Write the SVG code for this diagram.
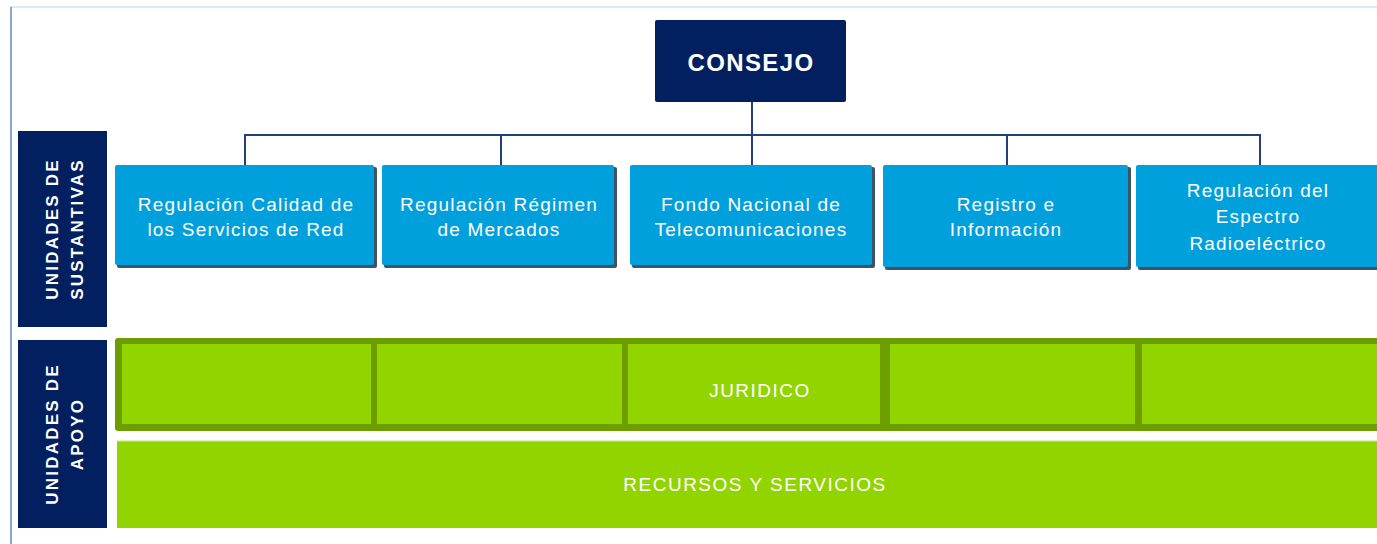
<svg xmlns="http://www.w3.org/2000/svg" width="1377" height="544" viewBox="0 0 1377 544">
<style>
.bx{fill:#00a0dc}
.sh{fill:#3b5564}
.bt{font-family:"Liberation Sans",Arial,sans-serif;font-size:19px;letter-spacing:1.2px;fill:#ffffff;text-anchor:middle}
.nv{fill:#022060}
.lb{font-family:"Liberation Sans",Arial,sans-serif;font-size:17px;font-weight:bold;letter-spacing:2.2px;fill:#ffffff;text-anchor:middle}
.gt{font-family:"Liberation Sans",Arial,sans-serif;font-size:19px;letter-spacing:1.5px;fill:#ffffff;text-anchor:middle}
.cn{stroke:#23407e;stroke-width:2;fill:none}
</style>
<rect width="1377" height="544" fill="#ffffff"/>
<g id="frame">
<line x1="10" y1="7" x2="1377" y2="7" stroke="#d6ecef" stroke-width="2"/>
<line x1="11" y1="7" x2="11" y2="544" stroke="#8ea7c6" stroke-width="2"/>
</g>
<g id="connectors">
<line class="cn" x1="752" y1="102" x2="752" y2="165"/>
<line class="cn" x1="245" y1="135" x2="1260" y2="135"/>
<line class="cn" x1="245" y1="134" x2="245" y2="165"/>
<line class="cn" x1="501" y1="134" x2="501" y2="165"/>
<line class="cn" x1="1007" y1="134" x2="1007" y2="166"/>
<line class="cn" x1="1260" y1="134" x2="1260" y2="166"/>
</g>
<g id="consejo">
<rect x="655" y="20" width="191" height="82" rx="2" class="nv"/>
<text x="751" y="71" font-family="Liberation Sans,Arial,sans-serif" font-size="24" font-weight="bold" letter-spacing="1.4" fill="#ffffff" text-anchor="middle">CONSEJO</text>
</g>
<g id="label-sustantivas">
<rect x="18" y="131" width="89" height="196" class="nv"/>
<text class="lb" transform="translate(58,229) rotate(-90)"><tspan x="0" y="0">UNIDADES DE</tspan><tspan x="0" y="25">SUSTANTIVAS</tspan></text>
</g>
<g id="label-apoyo">
<rect x="18" y="340" width="89" height="188" class="nv"/>
<text class="lb" transform="translate(58,434) rotate(-90)"><tspan x="0" y="0">UNIDADES DE</tspan><tspan x="0" y="25">APOYO</tspan></text>
</g>
<g id="box-calidad">
<rect x="117" y="167" width="260" height="101" rx="2" class="sh"/>
<rect x="115" y="165" width="259" height="100" rx="2" class="bx"/>
<text class="bt"><tspan x="246" y="211">Regulación Calidad de</tspan><tspan x="246" y="236">los Servicios de Red</tspan></text>
</g>
<g id="box-regimen">
<rect x="384" y="167" width="233" height="101" rx="2" class="sh"/>
<rect x="382" y="165" width="232" height="100" rx="2" class="bx"/>
<text class="bt"><tspan x="499" y="211">Regulación Régimen</tspan><tspan x="499" y="236">de Mercados</tspan></text>
</g>
<g id="box-fondo">
<rect x="632" y="167" width="243" height="101" rx="2" class="sh"/>
<rect x="630" y="165" width="242" height="100" rx="2" class="bx"/>
<text class="bt"><tspan x="751" y="211">Fondo Nacional de</tspan><tspan x="751" y="236">Telecomunicaciones</tspan></text>
</g>
<g id="box-registro">
<rect x="885" y="167" width="246" height="103" rx="2" class="sh"/>
<rect x="883" y="165" width="245" height="102" rx="2" class="bx"/>
<text class="bt"><tspan x="1006" y="211">Registro e</tspan><tspan x="1006" y="236">Información</tspan></text>
</g>
<g id="box-espectro">
<rect x="1138" y="167" width="246" height="103" rx="2" class="sh"/>
<rect x="1136" y="165" width="245" height="102" rx="2" class="bx"/>
<text class="bt"><tspan x="1258" y="197">Regulación del</tspan><tspan x="1258" y="223">Espectro</tspan><tspan x="1258" y="250">Radioeléctrico</tspan></text>
</g>
<g id="juridico">
<rect x="115" y="338" width="1270" height="93" rx="3" fill="#6c9e00"/>
<rect x="122" y="344" width="249" height="80" fill="#92d400"/>
<rect x="377" y="344" width="245" height="80" fill="#92d400"/>
<rect x="628" y="344" width="252" height="80" fill="#92d400"/>
<rect x="890" y="344" width="245" height="80" fill="#92d400"/>
<rect x="1142" y="344" width="240" height="80" fill="#92d400"/>
<text class="gt" x="760" y="397">JURIDICO</text>
</g>
<g id="recursos">
<rect x="117" y="441" width="1265" height="87" fill="#92d400"/>
<line x1="117" y1="441" x2="1377" y2="441" stroke="#c6e58a" stroke-width="1"/>
<text class="gt" x="755" y="491">RECURSOS Y SERVICIOS</text>
</g>
</svg>
